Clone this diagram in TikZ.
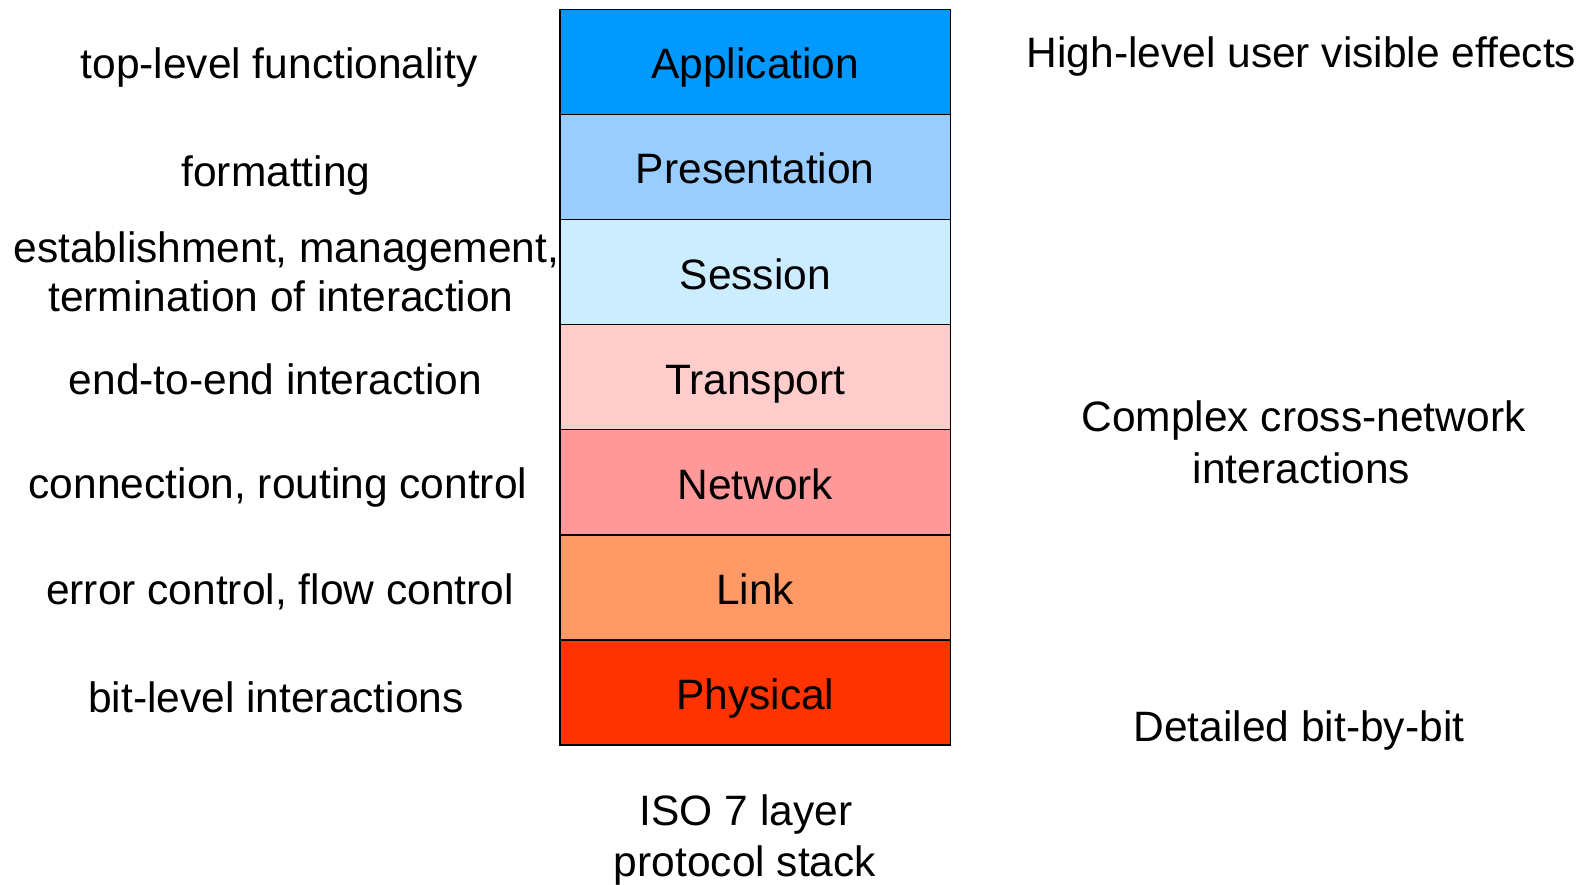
\documentclass[tikz,border=0pt]{standalone}
\usepackage{fontspec}
\setmainfont{Liberation Sans}
\definecolor{cApp}{HTML}{0099FF}
\definecolor{cPres}{HTML}{99CCFF}
\definecolor{cSess}{HTML}{CCECFF}
\definecolor{cTrans}{HTML}{FFCCCC}
\definecolor{cNet}{HTML}{FF9999}
\definecolor{cLink}{HTML}{FF9966}
\definecolor{cPhys}{HTML}{FF3300}
\tikzset{
  layerbox/.style={draw=black, line width=1.5pt, minimum width=390.5pt, minimum height=105.1pt,
    inner sep=0pt, outer sep=0pt, anchor=north, text height=34pt, text depth=0pt,
    font=\fontsize{42.5}{51}\selectfont},
  txt/.style={anchor=base, inner sep=0pt, font=\fontsize{42.5}{51}\selectfont}
}
\begin{document}
\begin{tikzpicture}[x=1pt,y=-1pt]
\useasboundingbox (0,0) rectangle (1587,884);
% layers
\node[layerbox, fill=cApp]   (app)   at (755.25,9.3)   {Application};
\node[layerbox, fill=cPres]  (pres)  at (755.25,114.4) {Presentation};
\node[layerbox, fill=cSess]  (sess)  at (755.25,219.5) {Session};
\node[layerbox, fill=cTrans] (trans) at (755.25,324.6) {Transport};
\node[layerbox, fill=cNet]   (net)   at (755.25,429.7) {Network};
\node[layerbox, fill=cLink]  (link)  at (755.25,534.8) {Link};
\node[layerbox, fill=cPhys]  (phys)  at (755.25,639.9) {Physical};
% left descriptions
\node[txt] (dApp)   at (279,78)    {top-level functionality};
\node[txt] (dPres)  at (276,186)   {formatting};
\node[txt] (dSessA) at (286.5,262) {establishment, management,};
\node[txt] (dSessB) at (281,311)   {termination of interaction};
\node[txt] (dTrans) at (275.5,394) {end-to-end interaction};
\node[txt] (dNet)   at (278,498)   {connection, routing control};
\node[txt] (dLink)  at (280,604)   {error control, flow control};
\node[txt] (dPhys)  at (276,712)   {bit-level interactions};
% right descriptions
\node[txt] (rHigh)  at (1301.5,67)  {High-level user visible effects};
\node[txt] (rCompA) at (1303.5,431) {Complex cross-network};
\node[txt] (rCompB) at (1301.5,483) {interactions};
\node[txt] (rDet)   at (1299,741)   {Detailed bit-by-bit};
% caption
\node[txt] (capA) at (746,825) {ISO 7 layer};
\node[txt] (capB) at (745,876) {protocol stack};
\end{tikzpicture}
\end{document}
